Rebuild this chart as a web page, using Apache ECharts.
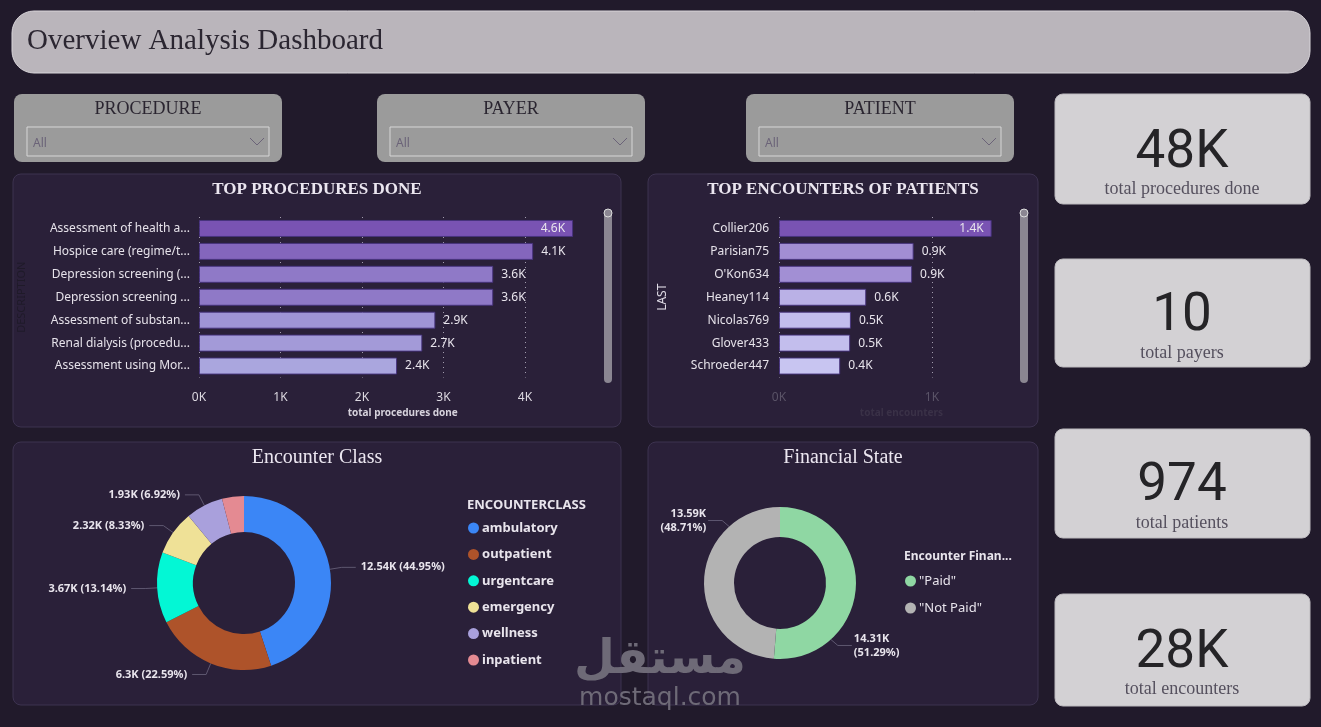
<!DOCTYPE html>
<html>
<head>
<meta charset="utf-8">
<title>Overview Analysis Dashboard</title>
<script src="https://cdn.jsdelivr.net/npm/echarts@6/dist/echarts.min.js"></script>
<style>
  html, body { margin: 0; padding: 0; background: #211a2b; }
  #main { width: 1321px; height: 727px; }
</style>
</head>
<body>
<div id="main"></div>
<script>
  // names are cut the same way the report shows them
  var procedureNames = ['Assessment of health a...', 'Hospice care (regime/t...', 'Depression screening (...',
    'Depression screening ...', 'Assessment of substan...', 'Renal dialysis (procedu...', 'Assessment using Mor...']
  var procedureCounts = [4590, 4100, 3610, 3610, 2900, 2740, 2430]

  var patientNames = ['Collier206', 'Parisian75', "O'Kon634", 'Heaney114', 'Nicolas769', 'Glover433', 'Schroeder447']
  var patientEncounters = [1390, 880, 870, 570, 470, 465, 400]

  var encounterClasses = ['ambulatory', 'outpatient', 'urgentcare', 'emergency', 'wellness', 'inpatient']
  var encounterCounts = [12540, 6302, 3666, 2324, 1931, 1135]

  var financialStates = ['"Paid"', '"Not Paid"']
  var financialCounts = [14310, 13590]

  var slicerTitles = ['PROCEDURE', 'PAYER', 'PATIENT']
  var kpiValues = ['48K', '10', '974', '28K']
  var kpiLabels = ['total procedures done', 'total payers', 'total patients', 'total encounters']

  // colours
  var classColors = ['#3b86f6', '#ae532a', '#03f7d5', '#efe197', '#a9a0dc', '#e48a92']
  var financeColors = ['#8fd7a3', '#b3b3b3']

  var SANS = "'Noto Sans', 'Open Sans', sans-serif"
  var SERIF = "'Liberation Serif', 'DejaVu Serif', serif"

  var financeCenter = [780, 583]
  var financeRadius = [46, 76]

  var chart = echarts.init(document.getElementById('main'))

  function kShort(v) {
    return (v / 1000).toFixed(2).replace(/\.?0+$/, '') + 'K'
  }

  function hexToRgb(h) {
    return [parseInt(h.substr(1, 2), 16), parseInt(h.substr(3, 2), 16), parseInt(h.substr(5, 2), 16)]
  }

  // lighter bar for smaller value, like the power bi gradient
  function barColor(values, light, dark) {
    var lo = Math.min.apply(null, values)
    var hi = Math.max.apply(null, values)
    var a = hexToRgb(light), b = hexToRgb(dark)
    return function (p) {
      var t = (p.value - lo) / (hi - lo)
      var c = a.map(function (x, i) { return Math.round(x + (b[i] - x) * t) })
      return 'rgb(' + c.join(',') + ')'
    }
  }

  function barData(values) {
    return values.map(function (v, i) {
      // biggest bar keeps its label inside
      return i === 0 ? {value: v, label: {position: 'insideRight', distance: 8}} : v
    })
  }

  function pieData(names, values, colors) {
    var sum = values.reduce(function (s, v) { return s + v }, 0)
    return names.map(function (n, i) {
      var item = {name: n, value: values[i], itemStyle: {color: colors[i]}}
      if (values[i] / sum < 0.05) {
        item.label = {show: false}
        item.labelLine = {show: false}
      }
      return item
    })
  }

  function buildGraphic() {
    var g = []
    // header
    g.push({type: 'rect', shape: {x: 12, y: 11, width: 1298, height: 62, r: 22},
      style: {fill: '#bab5bb', stroke: '#d9d5da', lineWidth: 1}})
    g.push({type: 'text', x: 27, y: 41,
      style: {text: 'Overview Analysis Dashboard', fontSize: 29, fontFamily: SERIF, fill: '#2b2631', verticalAlign: 'middle'}})

    // slicers
    var slicerX = [14, 377, 746]
    slicerTitles.forEach(function (t, i) {
      var x = slicerX[i], w = 268
      g.push({type: 'rect', shape: {x: x, y: 94, width: w, height: 68, r: 8}, style: {fill: '#9b9b9b'}})
      g.push({type: 'text', x: x + w / 2, y: 109,
        style: {text: t, fontSize: 18, fontFamily: SERIF, fill: '#2a2530', align: 'center', verticalAlign: 'middle'}})
      g.push({type: 'rect', shape: {x: x + 13, y: 127, width: w - 26, height: 29},
        style: {fill: 'none', stroke: '#d6d6d6', lineWidth: 1}})
      g.push({type: 'text', x: x + 19, y: 144,
        style: {text: 'All', fontSize: 12, fontFamily: SANS, fill: '#6b6378', verticalAlign: 'middle'}})
      var cx = x + w - 25
      g.push({type: 'polyline', shape: {points: [[cx - 7, 138], [cx, 145], [cx + 7, 138]]},
        style: {stroke: '#6b6378', lineWidth: 1, fill: 'none'}})
    })

    // chart panels
    var panels = [
      {x: 13, y: 174, w: 608, h: 253, title: 'TOP PROCEDURES DONE', bold: true},
      {x: 648, y: 174, w: 390, h: 253, title: 'TOP ENCOUNTERS OF PATIENTS', bold: true},
      {x: 13, y: 442, w: 608, h: 263, title: 'Encounter Class'},
      {x: 648, y: 442, w: 390, h: 263, title: 'Financial State'}
    ]
    panels.forEach(function (p) {
      g.push({type: 'rect', shape: {x: p.x, y: p.y, width: p.w, height: p.h, r: 8},
        style: {fill: '#2a2039', stroke: '#3d3350', lineWidth: 1}})
      g.push({type: 'text', x: p.x + p.w / 2, y: p.y + 16,
        style: {text: p.title, fontSize: p.bold ? 17 : 20, fontWeight: p.bold ? 'bold' : 'normal',
          fontFamily: SERIF, fill: '#ebe6f0', align: 'center', verticalAlign: 'middle'}})
    })

    // kpi cards
    var kpiBoxes = [
      {y: 94, h: 110, num: 154, lab: 189},
      {y: 259, h: 108, num: 317, lab: 353},
      {y: 429, h: 109, num: 487, lab: 523},
      {y: 594, h: 112, num: 654, lab: 689}
    ]
    kpiBoxes.forEach(function (b, i) {
      g.push({type: 'rect', shape: {x: 1055, y: b.y, width: 255, height: b.h, r: 8},
        style: {fill: '#d3d1d4', stroke: '#bdbabf', lineWidth: 1}})
      g.push({type: 'text', x: 1182, y: b.num,
        style: {text: kpiValues[i], fontSize: 53, fontFamily: 'Roboto, sans-serif', fill: '#252427',
          align: 'center', verticalAlign: 'middle'}})
      g.push({type: 'text', x: 1182, y: b.lab,
        style: {text: kpiLabels[i], fontSize: 18, fontFamily: SERIF, fill: '#55505e',
          align: 'center', verticalAlign: 'middle'}})
    })

    // scrollbars on top of the bar charts
    ;[604, 1020].forEach(function (x) {
      g.push({type: 'rect', z: 50, shape: {x: x, y: 210, width: 8, height: 173, r: 4}, style: {fill: '#8b8692'}})
      g.push({type: 'circle', z: 51, shape: {cx: x + 4, cy: 213, r: 4},
        style: {fill: '#8b8692', stroke: '#dcdcdc', lineWidth: 1}})
    })

    // legend titles
    g.push({type: 'text', x: 467, y: 505,
      style: {text: 'ENCOUNTERCLASS', fontSize: 13, fontWeight: 'bold', fontFamily: SANS, fill: '#e8e4ec', verticalAlign: 'middle'}})
    g.push({type: 'text', x: 904, y: 557,
      style: {text: 'Encounter Finan...', fontSize: 12, fontWeight: 'bold', fontFamily: SANS, fill: '#e8e4ec', verticalAlign: 'middle'}})

    // watermark
    g.push({type: 'text', z: 100, x: 660, y: 661,
      style: {text: 'مستقل', fontSize: 47, fontWeight: 'bold', fontFamily: "'DejaVu Sans', sans-serif",
        fill: '#6e6a77', align: 'center', verticalAlign: 'middle'}})
    g.push({type: 'text', z: 100, x: 660, y: 698,
      style: {text: 'mostaql.com', fontSize: 25, fontFamily: "'DejaVu Sans', sans-serif",
        fill: '#6e6a77', align: 'center', verticalAlign: 'middle'}})
    return g
  }

  var hideAxis = {axisLine: {show: false}, axisTick: {show: false}}
  var dots = {lineStyle: {type: [1, 4], color: '#a29cae'}}

  var option = {
    backgroundColor: '#211a2b',
    animation: false,
    textStyle: {fontFamily: SANS},
    graphic: buildGraphic(),
    grid: [
      {left: 199, top: 217, width: 407.5, height: 160.5},
      {left: 779, top: 217, width: 244.8, height: 160.5}
    ],
    xAxis: [
      Object.assign({
        type: 'value', gridIndex: 0, min: 0, max: 5000, interval: 1000,
        name: 'total procedures done', nameLocation: 'middle', nameGap: 31,
        nameTextStyle: {color: '#d6d2dc', fontSize: 10, fontWeight: 'bold', verticalAlign: 'top'},
        axisLabel: {color: '#dcd8e0', fontSize: 12, margin: 14, showMaxLabel: false,
          formatter: function (v) { return v / 1000 + 'K' }},
        splitLine: dots
      }, hideAxis),
      Object.assign({
        type: 'value', gridIndex: 1, min: 0, max: 1600, interval: 1000,
        name: 'total encounters', nameLocation: 'middle', nameGap: 31,
        nameTextStyle: {color: '#3a3147', fontSize: 10, fontWeight: 'bold', verticalAlign: 'top'},
        axisLabel: {color: '#5a5367', fontSize: 12, margin: 14, showMaxLabel: false,
          formatter: function (v) { return v / 1000 + 'K' }},
        splitLine: dots
      }, hideAxis)
    ],
    yAxis: [
      Object.assign({
        type: 'category', gridIndex: 0, inverse: true, data: procedureNames,
        axisLabel: {color: '#e6e2ea', fontSize: 12, margin: 9},
        name: 'DESCRIPTION', nameLocation: 'middle', nameGap: 172, nameRotate: 90,
        nameTextStyle: {color: '#1f1a29', fontSize: 11}
      }, hideAxis),
      Object.assign({
        type: 'category', gridIndex: 1, inverse: true, data: patientNames,
        axisLabel: {color: '#e6e2ea', fontSize: 12, margin: 10},
        name: 'LAST', nameLocation: 'middle', nameGap: 110, nameRotate: 90,
        nameTextStyle: {color: '#e0dce6', fontSize: 12}
      }, hideAxis)
    ],
    legend: [
      {
        data: encounterClasses, orient: 'vertical', left: 463, top: 515, icon: 'circle',
        itemWidth: 11, itemHeight: 11, itemGap: 10.4, selectedMode: false,
        textStyle: {color: '#e8e4ec', fontSize: 13, fontWeight: 'bold', lineHeight: 16, padding: [0, 0, 0, -2]}
      },
      {
        data: financialStates, orient: 'vertical', left: 900, top: 568, icon: 'circle',
        itemWidth: 11, itemHeight: 11, itemGap: 11, selectedMode: false,
        textStyle: {color: '#e8e4ec', fontSize: 13, lineHeight: 16, padding: [0, 0, 0, -2]}
      }
    ],
    series: [
      {
        type: 'bar', xAxisIndex: 0, yAxisIndex: 0, barWidth: 17,
        data: barData(procedureCounts),
        itemStyle: {color: barColor(procedureCounts, '#aaa6de', '#7953b3'), borderColor: 'rgba(70,50,125,0.9)', borderWidth: 1},
        label: {show: true, position: 'right', distance: 8, color: '#e8e4ec', fontSize: 12,
          formatter: function (p) { return (p.value / 1000).toFixed(1) + 'K' }}
      },
      {
        type: 'bar', xAxisIndex: 1, yAxisIndex: 1, barWidth: 17,
        data: barData(patientEncounters),
        itemStyle: {color: barColor(patientEncounters, '#c8c5f1', '#7953b3'), borderColor: 'rgba(70,50,125,0.9)', borderWidth: 1},
        label: {show: true, position: 'right', distance: 8, color: '#e8e4ec', fontSize: 12,
          formatter: function (p) { return (p.value / 1000).toFixed(1) + 'K' }}
      },
      {
        type: 'pie', center: [244, 583], radius: [51, 87], startAngle: 90, clockwise: true,
        percentPrecision: 2,
        data: pieData(encounterClasses, encounterCounts, classColors),
        label: {color: '#e8e4ec', fontSize: 11, fontWeight: 'bold',
          formatter: function (p) { return kShort(p.value) + ' (' + p.percent.toFixed(2) + '%)' }},
        labelLine: {length: 12, length2: 14, lineStyle: {color: '#5e5770', width: 1}}
      },
      {
        type: 'pie', center: financeCenter, radius: financeRadius, startAngle: 90, clockwise: true,
        percentPrecision: 2,
        data: pieData(financialStates, financialCounts, financeColors),
        label: {color: '#e8e4ec', fontSize: 11, fontWeight: 'bold', lineHeight: 14,
          formatter: function (p) { return kShort(p.value) + '\n(' + p.percent.toFixed(2) + '%)' }},
        labelLine: {length: 10, length2: 10, lineStyle: {color: '#5e5770', width: 1}},
        // power bi puts these two labels at the corners of the ring
        labelLayout: function (p) {
          var s = p.labelRect.x > financeCenter[0] ? 1 : -1
          var r = financeRadius[1], ang = 48 * Math.PI / 180
          var ax = financeCenter[0] + s * r * Math.cos(ang)
          var ay = financeCenter[1] + s * r * Math.sin(ang)
          var bx = ax + s * 7, by = ay + s * 6
          var ex = bx + s * 14
          return {
            x: ex + s * 2, y: by - p.labelRect.height / 2,
            align: s > 0 ? 'left' : 'right', verticalAlign: 'top',
            labelLinePoints: [[ax, ay], [bx, by], [ex, by]]
          }
        }
      }
    ]
  }

  chart.setOption(option)
</script>
</body>
</html>
